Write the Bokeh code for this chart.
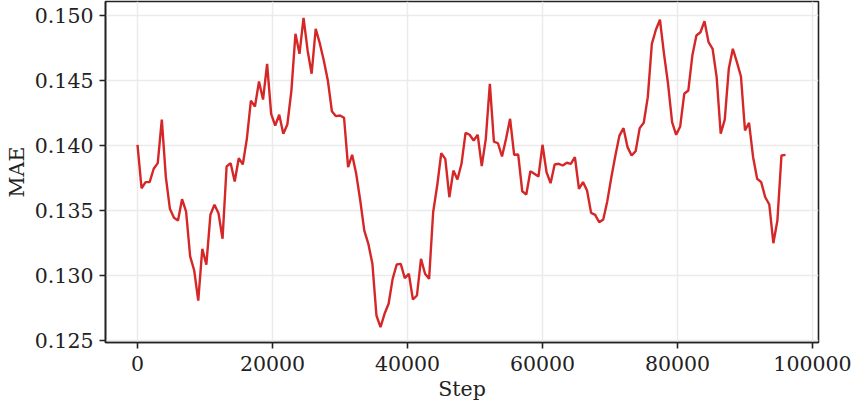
from bokeh.plotting import figure
from bokeh.models import Range1d, FixedTicker, PrintfTickFormatter
from bokeh.embed import file_html
from bokeh.resources import INLINE

step_interval = 600
mae = [
    0.14004, 0.13670, 0.13717, 0.13717, 0.13820, 0.13863, 0.14198, 0.13755, 0.13512, 0.13443,
    0.13422, 0.13586, 0.13491, 0.13146, 0.13038, 0.12807, 0.13205, 0.13082, 0.13466, 0.13543,
    0.13478, 0.13282, 0.13837, 0.13863, 0.13722, 0.13901, 0.13853, 0.14050, 0.14344, 0.14298,
    0.14490, 0.14352, 0.14626, 0.14242, 0.14152, 0.14235, 0.14089, 0.14160, 0.14421, 0.14857,
    0.14703, 0.14980, 0.14729, 0.14550, 0.14896, 0.14785, 0.14652, 0.14498, 0.14262, 0.14224,
    0.14229, 0.14212, 0.13832, 0.13927, 0.13781, 0.13576, 0.13345, 0.13243, 0.13089, 0.12692,
    0.12602, 0.12705, 0.12782, 0.12974, 0.13084, 0.13089, 0.12979, 0.13013, 0.12815, 0.12846,
    0.13128, 0.13013, 0.12974, 0.13486, 0.13691, 0.13939, 0.13896, 0.13601, 0.13806, 0.13737,
    0.13858, 0.14096, 0.14081, 0.14037, 0.14081, 0.13840, 0.14050, 0.14473, 0.14029, 0.14016,
    0.13914, 0.14050, 0.14204, 0.13927, 0.13929, 0.13647, 0.13622, 0.13801, 0.13781, 0.13760,
    0.14004, 0.13793, 0.13709, 0.13853, 0.13858, 0.13845, 0.13866, 0.13858, 0.13909, 0.13666,
    0.13717, 0.13653, 0.13481, 0.13466, 0.13409, 0.13430, 0.13571, 0.13755, 0.13922, 0.14075,
    0.14132, 0.13986, 0.13922, 0.13955, 0.14132, 0.14173, 0.14370, 0.14780, 0.14888, 0.14965,
    0.14703, 0.14473, 0.14178, 0.14081, 0.14145, 0.14396, 0.14421, 0.14690, 0.14844, 0.14869,
    0.14954, 0.14793, 0.14742, 0.14524, 0.14089, 0.14198, 0.14588, 0.14742, 0.14639, 0.14529,
    0.14114, 0.14173, 0.13909, 0.13743, 0.13717, 0.13601, 0.13545, 0.13248, 0.13422, 0.13922,
    0.13927,
]
steps = [i * step_interval for i in range(len(mae))]

x_ticks = [0, 20000, 40000, 60000, 80000, 100000]
y_ticks = [0.125, 0.130, 0.135, 0.140, 0.145, 0.150]

FONT = "DejaVu Serif"
FS = "20.5px"
DARK = "#222222"

p = figure(width=854, height=406, output_backend="svg", toolbar_location=None,
           x_range=Range1d(-4741, 100889), y_range=Range1d(0.124846, 0.151053),
           min_border_left=105, min_border_right=36, min_border_top=1, min_border_bottom=64)

p.line(steps, mae, line_color="#d62728", line_width=2.4)

p.background_fill_color = "white"
p.border_fill_color = "white"
p.outline_line_color = DARK
p.outline_line_width = 1.6

p.xaxis.ticker = FixedTicker(ticks=x_ticks)
p.yaxis.ticker = FixedTicker(ticks=y_ticks)
p.xaxis.formatter = PrintfTickFormatter(format="%d")
p.yaxis.formatter = PrintfTickFormatter(format="%.3f")

p.xaxis.axis_label = "Step"
p.yaxis.axis_label = "MAE"

for ax in (p.xaxis, p.yaxis):
    ax.axis_label_text_font = FONT
    ax.axis_label_text_font_size = FS
    ax.axis_label_text_font_style = "normal"
    ax.axis_label_text_color = DARK
    ax.major_label_text_font = FONT
    ax.major_label_text_font_size = FS
    ax.major_label_text_color = DARK
    ax.axis_line_color = DARK
    ax.axis_line_width = 1.6
    ax.major_tick_line_color = DARK
    ax.major_tick_line_width = 1.6
    ax.major_tick_out = 6
    ax.major_tick_in = 0
    ax.minor_tick_line_color = None

p.yaxis.major_label_standoff = 6
p.yaxis.axis_label_standoff = 3
p.xaxis.major_label_standoff = 7
p.xaxis.axis_label_standoff = 3

p.xgrid.ticker = FixedTicker(ticks=x_ticks)
p.ygrid.ticker = FixedTicker(ticks=y_ticks)
p.grid.grid_line_color = "#ebebeb"
p.grid.grid_line_width = 1.5

open("out.html", "w").write(file_html(p, INLINE))
